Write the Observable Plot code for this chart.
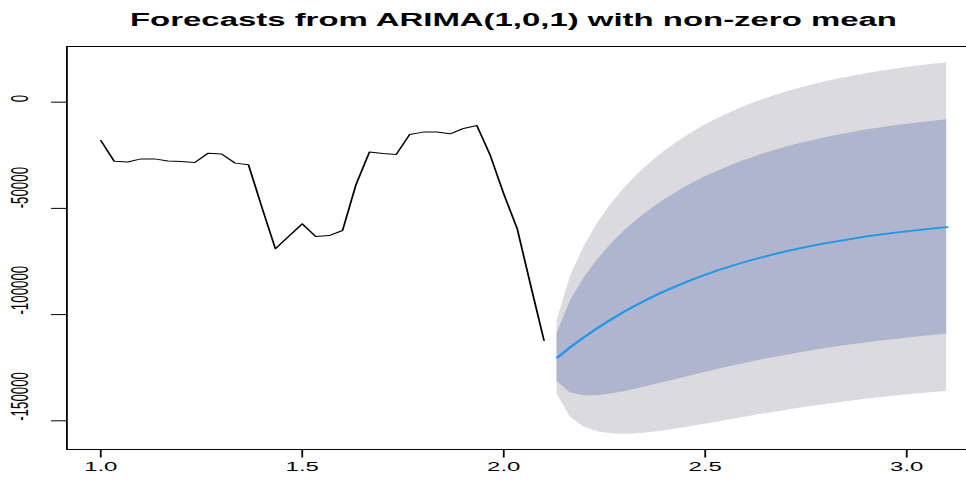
<!DOCTYPE html>
<html>
<head>
<meta charset="utf-8">
<script src="https://cdn.jsdelivr.net/npm/d3@7"></script>
<script src="https://cdn.jsdelivr.net/npm/@observablehq/plot@0.6"></script>
<style>
  html, body { margin: 0; padding: 0; background: #fff; overflow: hidden; width: 966px; height: 481px; }
  /* the figure is drawn narrow and widened horizontally */
  #chart { transform: scaleX(1.8); transform-origin: 0 0; width: 545px; }
</style>
</head>
<body>
<div id="chart"></div>
<script>
const title = "Forecasts from ARIMA(1,0,1) with non-zero mean";

// time series: start and frequency
const start = 1;
const frequency = 30;

// observed values
const observed = [-18000, -27800, -28200, -26700, -26700, -27700, -27900, -28400, -24000, -24400,
  -28700, -29500, -49600, -69000, -63100, -57300, -63200, -62800, -60400, -38800,
  -23500, -24200, -24600, -15200, -14100, -14100, -14900, -12400, -11000, -25100,
  -43200, -59500, -86100, -112200];

// point forecasts, h = 30
const fcMean = [-120200, -115160, -110540, -106210, -102210, -98490, -95050, -91850, -88890, -86160,
  -83610, -81210, -79050, -77020, -75140, -73350, -71750, -70240, -68830, -67560,
  -66340, -65250, -64220, -63230, -62380, -61530, -60780, -60070, -59420, -58800];

// 80% interval
const lo80 = [-131500, -136860, -138220, -138180, -137430, -136300, -134930, -133420, -131870, -130320,
  -128760, -127210, -125750, -124340, -122970, -121610, -120380, -119200, -118030, -116990,
  -116010, -115060, -114170, -113320, -112570, -111810, -111160, -110490, -109890, -109360];
const hi80 = [-108900, -93460, -82860, -74240, -66990, -60690, -55170, -50280, -45910, -42000,
  -38460, -35210, -32350, -29710, -27310, -25090, -23120, -21280, -19630, -18130,
  -16670, -15440, -14270, -13140, -12190, -11250, -10400, -9650, -8950, -8240];

// 95% interval
const lo95 = [-137490, -148370, -152900, -155130, -156100, -156340, -156070, -155460, -154660, -153740,
  -152700, -151600, -150520, -149420, -148330, -147190, -146170, -145160, -144110, -143200,
  -142340, -141470, -140660, -139880, -139180, -138470, -137870, -137230, -136650, -136170];
const hi95 = [-102910, -81950, -68180, -57290, -48320, -40640, -34030, -28240, -23120, -18590,
  -14520, -10830, -7590, -4620, -1950, 490, 2670, 4680, 6450, 8080,
  9660, 10970, 12220, 13420, 14420, 15410, 16310, 17090, 17810, 18570];

const xTicks = [1.0, 1.5, 2.0, 2.5, 3.0];
const yTicks = [0, -50000, -100000, -150000];

const hist = observed.map((v, i) => ({t: start + i / frequency, v}));
const fc = fcMean.map((m, k) => ({
  t: start + (observed.length + k) / frequency,
  m, lo80: lo80[k], hi80: hi80[k], lo95: lo95[k], hi95: hi95[k]
}));

const sx = 1.8; // horizontal widening factor
const font = "'Liberation Sans', Arial, sans-serif";

const chart = Plot.plot({
  width: 980 / sx,
  height: 481,
  marginLeft: 66 / sx,
  marginRight: 0,
  marginTop: 46,
  marginBottom: 32,
  style: {fontFamily: font, fontSize: "13.3px", background: "#fff", color: "#000"},
  x: {domain: [0.916, 3.184], label: null},
  y: {domain: [-163500, 26200], label: null},
  marks: [
    Plot.areaY(fc, {x: "t", y1: "lo95", y2: "hi95", fill: "#DBDBDF"}),
    Plot.areaY(fc, {x: "t", y1: "lo80", y2: "hi80", fill: "#B0B5CF"}),
    Plot.line(fc, {x: "t", y: "m", stroke: "#2297E6", strokeWidth: 1.8}),
    Plot.line(hist, {x: "t", y: "v", stroke: "#000", strokeWidth: 1}),
    Plot.frame({stroke: "#000", strokeWidth: 1}),
    Plot.axisX({ticks: xTicks, tickSize: 8.5, tickPadding: 4, tickFormat: d3.format(".1f"),
      label: null, fontSize: 13.3, stroke: "#000", fill: "#000"}),
    Plot.axisY({ticks: yTicks, tickSize: 8.3, fill: "none", stroke: "#000", label: null}),
    Plot.text(yTicks, {y: d => d, text: d => String(d), frameAnchor: "left", dx: -25.6,
      rotate: -90, fontSize: 13.3, fill: "#000"}),
    Plot.text([title], {frameAnchor: "top", dx: -5.8, dy: -33.5, fontSize: 18.3,
      fontWeight: "bold", fill: "#000"})
  ]
});

document.getElementById("chart").appendChild(chart);
</script>
</body>
</html>
